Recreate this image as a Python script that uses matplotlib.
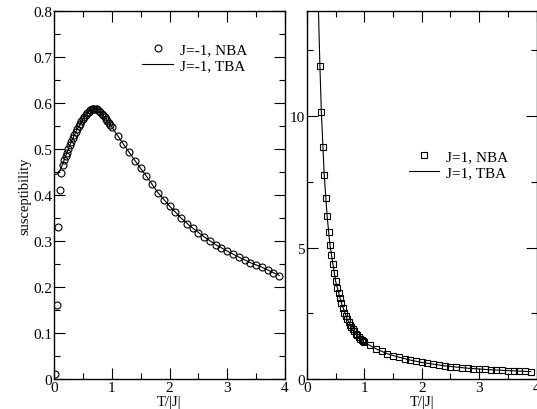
import matplotlib
matplotlib.use("Agg")
import matplotlib.pyplot as plt

plt.rcParams['font.family'] = ['Liberation Serif', 'DejaVu Serif']

# J=-1 data (left panel)
t_nba_af = [0.025, 0.05, 0.075, 0.1, 0.125, 0.15, 0.175, 0.2, 0.225, 0.25,
            0.275, 0.3, 0.325, 0.35, 0.375, 0.4, 0.425, 0.45, 0.475, 0.5,
            0.525, 0.55, 0.575, 0.6, 0.625, 0.65, 0.675, 0.7, 0.725, 0.75,
            0.775, 0.8, 0.825, 0.85, 0.875, 0.9, 0.925, 0.95, 0.975, 1.0,
            1.1, 1.2, 1.3, 1.4, 1.5, 1.6, 1.7, 1.8, 1.9, 2.0,
            2.1, 2.2, 2.3, 2.4, 2.5, 2.6, 2.7, 2.8, 2.9, 3.0,
            3.1, 3.2, 3.3, 3.4, 3.5, 3.6, 3.7, 3.8, 3.9]
chi_nba_af = [0.01, 0.16, 0.33, 0.41, 0.448, 0.466, 0.476, 0.484, 0.492, 0.50,
              0.508, 0.516, 0.523, 0.530, 0.537, 0.543, 0.549, 0.555, 0.560, 0.565,
              0.570, 0.574, 0.578, 0.581, 0.584, 0.586, 0.588, 0.588, 0.587, 0.586,
              0.583, 0.580, 0.577, 0.573, 0.569, 0.565, 0.561, 0.557, 0.552, 0.548,
              0.529, 0.511, 0.493, 0.475, 0.458, 0.441, 0.424, 0.405, 0.389, 0.376,
              0.363, 0.350, 0.338, 0.328, 0.318, 0.309, 0.300, 0.292, 0.285, 0.278,
              0.271, 0.265, 0.259, 0.253, 0.248, 0.243, 0.237, 0.231, 0.225]
t_tba_af = [0.0, 0.05, 0.1, 0.15, 0.2, 0.3, 0.4, 0.5, 0.6, 0.7, 0.8, 0.9, 1.0,
            1.2, 1.4, 1.6, 1.8, 2.0, 2.2, 2.4, 2.6, 2.8, 3.0, 3.2, 3.4, 3.6, 3.8, 3.9]
chi_tba_af = [0.445, 0.445, 0.452, 0.468, 0.484, 0.516, 0.543, 0.565, 0.581, 0.588,
              0.580, 0.565, 0.548, 0.511, 0.475, 0.441, 0.405, 0.376, 0.350, 0.328,
              0.309, 0.292, 0.278, 0.265, 0.253, 0.243, 0.231, 0.225]

# J=1 data (right panel)
t_nba_f = [0.225, 0.25, 0.275, 0.3, 0.325, 0.35, 0.375, 0.4, 0.425, 0.45,
           0.475, 0.5, 0.525, 0.55, 0.575, 0.6, 0.625, 0.65, 0.675, 0.7,
           0.725, 0.75, 0.775, 0.8, 0.825, 0.85, 0.875, 0.9, 0.925, 0.95,
           0.975, 1.0, 1.1, 1.2, 1.3, 1.4, 1.5, 1.6, 1.7, 1.8,
           1.9, 2.0, 2.1, 2.2, 2.3, 2.4, 2.5, 2.6, 2.7, 2.8,
           2.9, 3.0, 3.1, 3.2, 3.3, 3.4, 3.5, 3.6, 3.7, 3.8, 3.9]
chi_nba_f = [11.9, 10.16, 8.83, 7.77, 6.89, 6.21, 5.6, 5.1, 4.71, 4.36,
             4.03, 3.71, 3.45, 3.26, 3.08, 2.89, 2.70, 2.52, 2.40, 2.28,
             2.17, 2.07, 1.97, 1.89, 1.81, 1.73, 1.66, 1.60, 1.54, 1.49,
             1.44, 1.39, 1.28, 1.15, 1.05, 0.96, 0.89, 0.83, 0.77, 0.72,
             0.67, 0.63, 0.60, 0.56, 0.53, 0.50, 0.47, 0.45, 0.43, 0.41,
             0.395, 0.38, 0.365, 0.35, 0.34, 0.33, 0.32, 0.31, 0.30, 0.29, 0.28]
t_tba_f = [0.19, 0.225, 0.25, 0.3, 0.35, 0.4, 0.5, 0.6, 0.7, 0.8, 0.9, 1.0,
           1.2, 1.4, 1.6, 1.8, 2.0, 2.4, 2.8, 3.2, 3.6, 3.9]
chi_tba_f = [14.8, 11.9, 10.16, 7.77, 6.21, 5.1, 3.71, 2.89, 2.28, 1.89, 1.60, 1.39,
             1.15, 0.96, 0.83, 0.72, 0.63, 0.50, 0.41, 0.35, 0.31, 0.28]

fig = plt.figure(figsize=(5.37, 4.10), dpi=100)
ax1 = fig.add_axes([54 / 537, 30 / 410, 231 / 537, 368 / 410])
ax2 = fig.add_axes([307 / 537, 30 / 410, 229.5 / 537, 368 / 410])

for ax in (ax1, ax2):
    ax.tick_params(which='both', direction='in', top=True, right=True,
                   labelsize=11, width=0.8)
    ax.tick_params(which='major', length=8, pad=1.5)
    ax.tick_params(which='minor', length=4)
    ax.set_xlim(0, 4)
    ax.set_xticks([0, 1, 2, 3, 4])
    ax.set_xticks([0.5, 1.5, 2.5, 3.5], minor=True)
    ax.set_xlabel('T/|J|', fontsize=10.5, labelpad=0.5)
    for s in ax.spines.values():
        s.set_linewidth(1.0)

ax1.plot(t_tba_af, chi_tba_af, color='black', lw=0.8, label='J=-1, TBA')
ax1.plot(t_nba_af, chi_nba_af, ls='none', marker='o', ms=5, mfc='none',
         mec='black', mew=0.8, label='J=-1, NBA')
ax1.set_ylim(0, 0.8)
ax1.set_yticks([0, 0.1, 0.2, 0.3, 0.4, 0.5, 0.6, 0.7, 0.8])
ax1.set_yticklabels(['0', '0.1', '0.2', '0.3', '0.4', '0.5', '0.6', '0.7', '0.8'])
ax1.set_yticks([0.05 + 0.1 * i for i in range(8)], minor=True)
ax1.set_ylabel('susceptibility', fontsize=10.5, labelpad=1)
h, l = ax1.get_legend_handles_labels()
ax1.legend(h[::-1], l[::-1], loc='upper left', bbox_to_anchor=(0.35, 0.935),
           frameon=False, fontsize=11, handlelength=2.0, handletextpad=0.45,
           borderpad=0, labelspacing=0.15)

ax2.plot(t_tba_f, chi_tba_f, color='black', lw=0.8, label='J=1, TBA')
ax2.plot(t_nba_f, chi_nba_f, ls='none', marker='s', ms=4.5, mfc='none',
         mec='black', mew=0.8, label='J=1, NBA')
ax2.set_ylim(0, 14)
ax2.set_yticks([0, 5, 10])
ax2.set_yticks([2.5, 7.5, 12.5], minor=True)
h, l = ax2.get_legend_handles_labels()
ax2.legend(h[::-1], l[::-1], loc='upper left', bbox_to_anchor=(0.41, 0.645),
           frameon=False, fontsize=11, handlelength=2.0, handletextpad=0.45,
           borderpad=0, labelspacing=0.15)

fig.savefig('out.png', dpi=100)
